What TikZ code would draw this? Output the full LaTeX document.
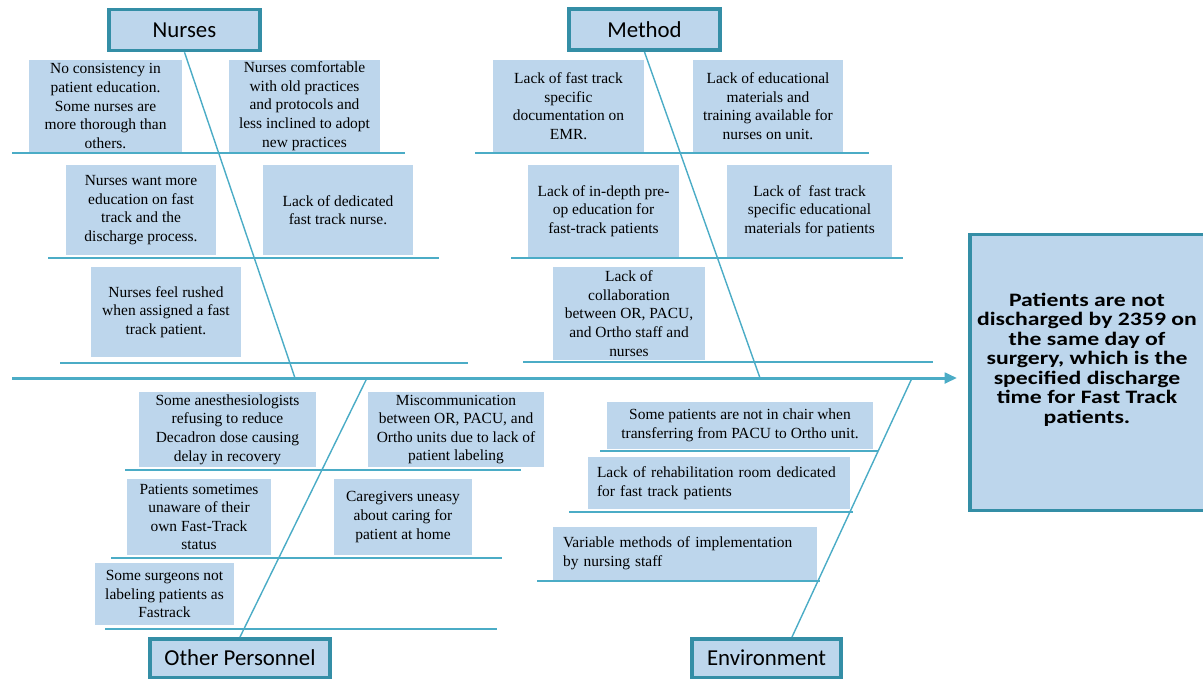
\documentclass[tikz,border=0pt]{standalone}
\usepackage{fontspec}
\setmainfont{Liberation Serif}
\newfontfamily\calibri{Carlito}
\newfontfamily\calibriwide[FakeStretch=1.25]{Carlito}
\usetikzlibrary{arrows.meta}

\definecolor{boxblue}{RGB}{189,214,236}
\definecolor{fishteal}{RGB}{75,172,198}
\definecolor{darkteal}{RGB}{52,142,166}

\tikzset{
    cause/.style={fill=boxblue, inner sep=0pt, align=center, font=\fontsize{8.8}{10.6}\selectfont},
    category/.style={fill=boxblue, draw=darkteal, line width=2pt, inner sep=0pt, font=\calibri\fontsize{13}{15}\selectfont},
    rib/.style={fishteal, line width=1.2pt},
    bone/.style={fishteal, line width=0.8pt},
}

\begin{document}
\begin{tikzpicture}[x=0.02cm, y=-0.02cm]
    \useasboundingbox (0,0) rectangle (1203,681);
    \node[category, minimum width=3.03cm, minimum height=0.82cm] (nurses) at (184.5,30) {Nurses};
    \node[category, minimum width=3.03cm, minimum height=0.83cm] (method) at (644.5,29.5) {Method};
    \node[category, minimum width=3.61cm, minimum height=0.77cm] (other) at (240,658) {Other Personnel};
    \node[category, minimum width=2.99cm, minimum height=0.77cm] (env) at (766.5,658) {Environment};
    \node[fill=boxblue, inner sep=0pt, minimum width=4.66cm, minimum height=5.5cm, align=center,
        font=\calibriwide\bfseries\fontsize{10.8}{11.1}\selectfont] (effect) at (1087,372.5)
        {Patients are not\\ discharged by 2359 on\\ the same day of\\ surgery, which is the\\ specified discharge\\ time for Fast Track\\ patients.\\[5.4pt]};
    \draw[darkteal, line width=2pt] ([xshift=2pt]effect.north east) -- (effect.north west) -- (effect.south west) -- ([xshift=2pt]effect.south east);

    \node[cause, minimum width=3.06cm, minimum height=1.84cm] (nconsist) at (105.5,106) {No consistency in\\ patient education.\\ Some nurses are\\ more thorough than\\ others.};
    \node[cause, minimum width=3.02cm, minimum height=1.84cm] (ncomfort) at (304.5,106) {Nurses comfortable\\ with old practices\\ and protocols and\\ less inclined to adopt\\ new practices};
    \node[cause, minimum width=3cm, minimum height=1.8cm] (nwant) at (141,210) {Nurses want more\\ education on fast\\ track and the\\ discharge process.};
    \node[cause, minimum width=3cm, minimum height=1.8cm] (ndedic) at (338,210) {Lack of dedicated\\ fast track nurse.};
    \node[cause, minimum width=3cm, minimum height=1.8cm] (nrush) at (166,312) {Nurses feel rushed\\ when assigned a fast\\ track patient.};

    \node[cause, minimum width=3.02cm, minimum height=1.84cm] (mdoc) at (568.5,106) {Lack of fast track\\ specific\\ documentation on\\ EMR.};
    \node[cause, minimum width=3cm, minimum height=1.84cm] (mtrain) at (768,106) {Lack of educational\\ materials and\\ training available for\\ nurses on unit.};
    \node[cause, minimum width=3.02cm, minimum height=1.84cm] (mpreop) at (603.5,211) {Lack of in-depth pre-\\ op education for\\ fast-track patients};
    \node[cause, minimum width=3.3cm, minimum height=1.84cm] (mmater) at (809.5,211) {Lack of \ fast track\\ specific educational\\ materials for patients};
    \node[cause, minimum width=3.04cm, minimum height=1.86cm] (mcollab) at (629,313.5) {Lack of\\ collaboration\\ between OR, PACU,\\ and Ortho staff and\\ nurses};

    \node[cause, minimum width=3.54cm, minimum height=1.5cm] (oanest) at (227.5,429.5) {Some anesthesiologists\\ refusing to reduce\\ Decadron dose causing\\ delay in recovery};
    \node[cause, minimum width=3.52cm, minimum height=1.5cm] (omiscom) at (456,429.5) {Miscommunication\\ between OR, PACU, and\\ Ortho units due to lack of\\ patient labeling};
    \node[cause, minimum width=2.88cm, minimum height=1.52cm] (ounaware) at (199,517) {Patients sometimes\\ unaware of their\\ own Fast-Track\\ status};
    \node[cause, minimum width=2.76cm, minimum height=1.52cm] (ocare) at (403,517) {Caregivers uneasy\\ about caring for\\ patient at home};
    \node[cause, minimum width=2.78cm, minimum height=1.24cm] (osurg) at (164.5,594) {Some surgeons not\\ labeling patients as\\ Fastrack};

    \node[cause, minimum width=5.32cm, minimum height=0.94cm] (echair) at (740,425.5) {Some patients are not in chair when\\ transferring from PACU to Ortho unit.};
    \node[cause, text width=4.88cm, inner xsep=0.18cm, minimum height=1.04cm, align=left] (erehab) at (719,483) {Lack of rehabilitation room dedicated\\ for fast track patients};
    \node[cause, text width=4.88cm, inner xsep=0.2cm, minimum height=1.06cm, align=left] (evary) at (685,553.5) {Variable methods of implementation\\ by nursing staff};

    \draw[rib] (12,153) -- (405,153);
    \draw[rib] (48,258) -- (439,258);
    \draw[rib] (60,363) -- (468,363);
    \draw[rib] (475,153) -- (869,153);
    \draw[rib] (511,258) -- (903,258);
    \draw[rib] (523,362) -- (933,362);
    \draw[rib] (125,470) -- (521,470);
    \draw[rib] (111,558) -- (502,558);
    \draw[rib] (105,629) -- (497,629);
    \draw[rib] (600,451) -- (878,451);
    \draw[rib] (569,512) -- (853,512);
    \draw[rib] (537,581) -- (820,581);

    \coordinate (tail) at (12,378);
    \coordinate (head) at (957,378);
    \coordinate (nurseshit) at (295,378);
    \coordinate (methodhit) at (760,378);
    \coordinate (otherhit) at (367,378);
    \coordinate (envhit) at (912,378);
    \draw[rib, line width=1.7pt, -{Triangle[length=7pt,width=6pt]}] (tail) -- (head);
    \draw[bone] (nurses.south) -- (nurseshit);
    \draw[bone] (method.south) -- (methodhit);
    \draw[bone] (other.north) -- (otherhit);
    \draw[bone] ([xshift=0.51cm]env.north) -- (envhit);
\end{tikzpicture}
\end{document}
